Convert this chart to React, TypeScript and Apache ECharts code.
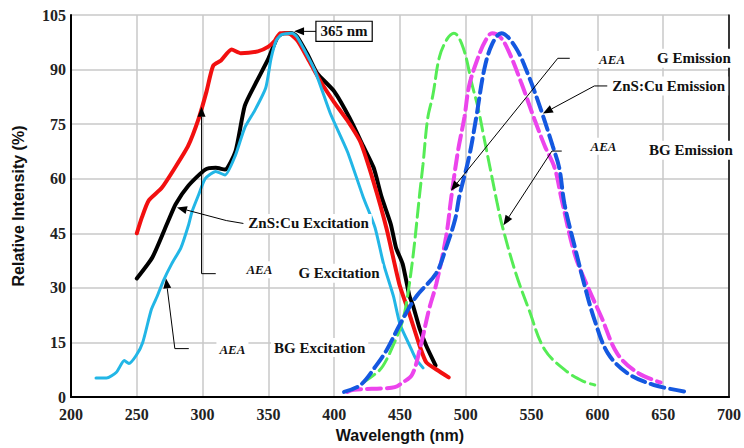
import React, { useEffect, useRef } from "react";
import * as echarts from "echarts";

// ---- Data (wavelength in nm, relative intensity in %) ----
const znsExcWl = [250, 262, 274, 279.5, 289, 302, 310, 317, 325, 332, 340, 350, 357, 362, 368, 372, 380, 387, 400, 412, 422, 430, 436, 443, 447, 452, 457, 460, 465, 470, 477];
const znsExcVal = [32.6, 38.5, 48.5, 53, 58, 62.5, 63, 62.5, 67.5, 80, 86, 93, 99, 100, 100, 99, 94, 89, 84, 76.5, 69, 63, 55, 47.5, 41, 36.6, 28, 25, 18.7, 14, 8.7];

const gExcWl = [250, 254, 259, 269, 279, 289, 297, 303, 308, 314, 322, 329, 342, 350, 355, 359, 365, 372, 380, 390, 400, 410, 420, 430, 440, 449.5, 457, 465, 470, 478, 487];
const gExcVal = [45, 49.5, 54, 57.5, 63, 69, 76.5, 84, 91, 92.5, 95.5, 94.5, 95, 96.3, 98, 100, 100, 98, 93, 86.5, 81, 76, 70, 59, 46, 31, 23, 14, 9.5, 7.5, 5.4];

const bgExcWl = [219, 227, 234.5, 240.5, 244, 249.5, 254.5, 261, 265.5, 270.5, 276.5, 283.5, 289.5, 292, 297, 302, 310, 317, 325, 332, 340, 348, 352, 356, 360, 368, 372, 385, 397, 410, 422, 431, 437.5, 445, 450, 457.5, 462, 467.5];
const bgExcVal = [5.2, 5.2, 6.8, 10, 9.2, 11.4, 15, 24, 27.7, 32.2, 36.6, 41, 47.5, 51, 55.6, 60, 62, 61, 66.5, 74, 79, 85, 93, 98, 99.6, 100, 98.8, 90, 78, 67.5, 55, 46.6, 36.6, 27.7, 20, 14, 10.5, 8];

const gEmWl = [422, 430, 437, 447, 452, 455, 460, 465, 467.5, 471, 475, 480, 486, 491, 498, 505, 509, 514, 519, 524, 528, 538, 548, 560, 577.5, 590, 598];
const gEmVal = [4, 6, 8.5, 16, 21, 26, 39, 56, 64, 76.5, 83, 93.5, 98.5, 100, 96, 85.5, 80, 71, 62, 53, 46.6, 34, 24, 13, 6.8, 4.2, 3.3];

const bgEmWl = [410, 415, 438, 446, 452, 459, 465, 472, 477.5, 485, 489, 494, 499, 502.5, 509, 515, 520, 526, 532, 542, 552, 560, 567.5, 573, 583, 593, 603, 615, 630, 648];
const bgEmVal = [1.4, 2, 2.4, 2.7, 4, 6, 13, 24, 31, 44, 55, 67.5, 77, 85.5, 93, 98, 100, 99, 95.5, 86.5, 76.5, 69, 63, 54, 39, 30, 22, 12, 6.8, 4];

const znsEmWl = [407.5, 420, 432, 440, 450, 462.5, 477.5, 485, 492, 495, 502.5, 508, 514, 520, 527, 538, 548, 558, 566, 571, 575, 583, 590, 598, 608, 623, 643, 668];
const znsEmVal = [1.4, 3.3, 8.7, 13, 20, 27.7, 34, 41, 49, 55, 66, 77, 90, 97, 100, 96, 88, 78, 69, 63, 53, 41, 31, 21, 12, 6.5, 3.3, 1.4];

// ---- Annotations (data coordinates) ----
const annoTexts: { text: string; at: [number, number]; italic?: boolean }[] = [
  { text: "ZnS:Cu Excitation", at: [332.5, 47.7] },
  { text: "AEA", at: [331, 35], italic: true },
  { text: "G Excitation", at: [370.5, 34] },
  { text: "AEA", at: [310.5, 13], italic: true },
  { text: "BG Excitation", at: [352, 13.6] },
  { text: "AEA", at: [599, 92.8], italic: true },
  { text: "G Emission", at: [643, 93.1] },
  { text: "ZnS:Cu Emission", at: [609, 85.5] },
  { text: "AEA", at: [592.5, 68.9], italic: true },
  { text: "BG Emission", at: [637, 67.8] },
];

const annoArrows: [number, number][][] = [
  [[331, 47.7], [318, 48.5], [280.5, 52.1]],
  [[310, 33.9], [299.2, 33.9], [299.2, 79.8]],
  [[289.5, 13.3], [278.9, 13.3], [272.2, 32.6]],
  [[579, 93.1], [569.9, 93.1], [488.7, 56.7]],
  [[607.5, 85.5], [597.7, 85.5], [558.6, 77.9]],
  [[572.9, 67.6], [565.4, 67.6], [528.6, 47.2]],
  [[390.5, 100.5], [369.5, 100.5]],
];

const peakLabel = "365 nm";
const peakLabelAt: [number, number] = [407.5, 100.5];

const pairs = (wl: number[], val: number[]) => wl.map((w, i) => [w, val[i]]);

const SERIF = "'Liberation Serif', 'Times New Roman', serif";
const SANS = "'Liberation Sans', Arial, sans-serif";

export default function App() {
  const ref = useRef<HTMLDivElement>(null);
  useEffect(() => {
    const chart = echarts.init(ref.current!, null, { renderer: "svg" });
    const solid = (name: string, wl: number[], val: number[], color: string, width: number) => ({
      name,
      type: "line",
      data: pairs(wl, val),
      showSymbol: false,
      smooth: 0.2,
      lineStyle: { color, width, cap: "round", join: "round" },
    });
    const dashed = (name: string, wl: number[], val: number[], color: string, width: number) => ({
      name,
      type: "line",
      data: pairs(wl, val),
      showSymbol: false,
      smooth: 0.35,
      lineStyle: { color, width, type: [14, 6], cap: "round" },
    });
    chart.setOption({
      animation: false,
      backgroundColor: "#ffffff",
      grid: { left: 71, right: 10, top: 15, bottom: 46 },
      xAxis: [
        {
          type: "value",
          min: 200,
          max: 700,
          interval: 50,
          name: "Wavelength (nm)",
          nameLocation: "middle",
          nameGap: 30,
          nameTextStyle: { fontFamily: SANS, fontWeight: "bold", fontSize: 16, color: "#111" },
          axisLine: { show: true, lineStyle: { color: "#000", width: 2 } },
          axisTick: { show: false },
          axisLabel: { fontFamily: SERIF, fontWeight: "bold", fontSize: 16, color: "#222", margin: 9 },
          splitLine: { show: true, lineStyle: { color: "#c8c8c8", width: 1.5 } },
        },
        {
          type: "value",
          position: "top",
          min: 200,
          max: 700,
          interval: 50,
          axisLine: { show: true, lineStyle: { color: "#000", width: 1.5 } },
          axisTick: { show: false },
          axisLabel: { show: false },
          splitLine: { show: false },
          z: 3,
        },
      ],
      yAxis: [
        {
          type: "value",
          min: 0,
          max: 105,
          interval: 15,
          name: "Relative Intensity (%)",
          nameLocation: "middle",
          nameGap: 45,
          nameTextStyle: { fontFamily: SANS, fontWeight: "bold", fontSize: 16, color: "#111" },
          axisLine: { show: true, lineStyle: { color: "#000", width: 2 } },
          axisTick: { show: false },
          axisLabel: { fontFamily: SERIF, fontWeight: "bold", fontSize: 16, color: "#222", margin: 5 },
          splitLine: { show: true, lineStyle: { color: "#c8c8c8", width: 1.5 } },
        },
        {
          type: "value",
          position: "right",
          min: 0,
          max: 105,
          interval: 15,
          axisLine: { show: true, lineStyle: { color: "#000", width: 1.5 } },
          axisTick: { show: false },
          axisLabel: { show: false },
          splitLine: { show: false },
          z: 3,
        },
      ],
      series: [
        solid("ZnS:Cu Excitation", znsExcWl, znsExcVal, "#000000", 4),
        solid("G Excitation", gExcWl, gExcVal, "#f21010", 4),
        solid("BG Excitation", bgExcWl, bgExcVal, "#22b6e6", 3),
        dashed("G Emission", gEmWl, gEmVal, "#55ec55", 3),
        dashed("BG Emission", bgEmWl, bgEmVal, "#ec44ec", 4),
        dashed("ZnS:Cu Emission", znsEmWl, znsEmVal, "#1458e0", 4),
      ],
    });

    const px = (p: [number, number]) => chart.convertToPixel({ gridIndex: 0 }, p) as number[];
    const graphics: any[] = [];
    annoArrows.forEach((path) => {
      const pts = path.map((p) => px(p));
      const n = pts.length;
      const tip = pts[n - 1];
      const prev = pts[n - 2];
      const dx = tip[0] - prev[0];
      const dy = tip[1] - prev[1];
      const len = Math.hypot(dx, dy) || 1;
      const ux = dx / len;
      const uy = dy / len;
      const L = 10;
      const W = 4;
      const bx = tip[0] - ux * L;
      const by = tip[1] - uy * L;
      graphics.push({
        type: "polyline",
        z: 90,
        shape: { points: pts.slice(0, n - 1).concat([[bx, by]]) },
        style: { stroke: "#000", lineWidth: 1, fill: null },
      });
      graphics.push({
        type: "polygon",
        z: 90,
        shape: {
          points: [
            [tip[0], tip[1]],
            [bx - uy * W, by + ux * W],
            [bx + uy * W, by - ux * W],
          ],
        },
        style: { fill: "#000" },
      });
    });
    annoTexts.forEach((t) => {
      const p = px(t.at);
      graphics.push({
        type: "text",
        z: 100,
        x: p[0],
        y: p[1],
        style: {
          text: t.text,
          fontFamily: SERIF,
          fontWeight: "bold",
          fontStyle: t.italic ? "italic" : "normal",
          fontSize: t.italic ? 13 : 15,
          fill: "#111",
          align: "left",
          verticalAlign: "middle",
          backgroundColor: "#ffffff",
          padding: [2, 3],
        },
      });
    });
    const pl = px(peakLabelAt);
    graphics.push({
      type: "text",
      z: 100,
      x: pl[0],
      y: pl[1],
      style: {
        text: peakLabel,
        fontFamily: SERIF,
        fontWeight: "bold",
        fontSize: 15,
        fill: "#111",
        align: "center",
        verticalAlign: "middle",
        backgroundColor: "#ffffff",
        borderColor: "#000",
        borderWidth: 1.2,
        padding: [2, 4],
      },
    });
    chart.setOption({ graphic: graphics });
    return () => chart.dispose();
  }, []);
  return <div ref={ref} style={{ position: "absolute", left: 0, top: 0, width: 744, height: 448 }} />;
}
